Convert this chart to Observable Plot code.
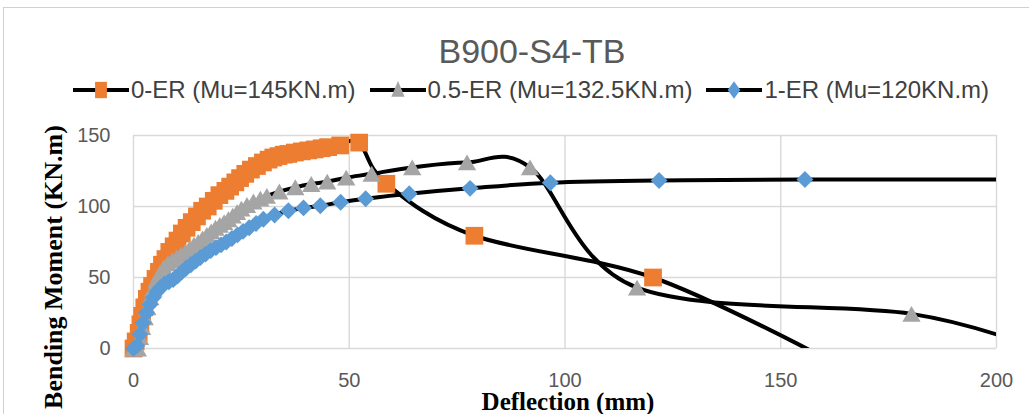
<!DOCTYPE html>
<html>
<head>
<meta charset="utf-8">
<script src="https://cdn.jsdelivr.net/npm/d3@7"></script>
<script src="https://cdn.jsdelivr.net/npm/@observablehq/plot@0.6"></script>
<style>
  html, body { margin: 0; padding: 0; background: #fff; }
  #chart { position: relative; width: 1029px; height: 414px; overflow: hidden; background: #fff; }
  #frame { position: absolute; left: 3px; top: 7px; width: 1060px; height: 440px; border: 1px solid #d0d0d0; box-sizing: border-box; }
  #title { position: absolute; top: 34px; left: 532px; transform: translateX(-50%); font: 34px/34px "Liberation Sans", Arial, sans-serif; color: #595959; white-space: nowrap; }
  #legend { position: absolute; top: 78px; left: 0; width: 1062px; display: flex; justify-content: center; gap: 14px; font: 24px/24px "Liberation Sans", Arial, sans-serif; color: #404040; white-space: nowrap; }
  #legend .item { display: flex; align-items: center; gap: 2px; }
  #plot { position: absolute; left: 0; top: 0; }
</style>
</head>
<body>
<div id="chart">
  <div id="frame"></div>
  <div id="title">B900-S4-TB</div>
  <div id="legend"></div>
  <div id="plot"></div>
</div>
<script>
// Axis ticks
const xTicks = [0, 50, 100, 150, 200];
const yTicks = [0, 50, 100, 150];

// Series names and colours
const seriesNames = ["0-ER (Mu=145KN.m)", "0.5-ER (Mu=132.5KN.m)", "1-ER (Mu=120KN.m)"];
const seriesColors = ["#ED7D31", "#A5A5A5", "#5B9BD5"];
const seriesSymbols = ["square", "triangle", "diamond2"];

// 0-ER: deflection (mm) and bending moment (kN.m)
const er0X = [0, 0.5, 1.2, 1.6, 2.0, 2.5, 3.1, 3.7, 4.3, 5.1, 5.9, 6.6, 7.4, 8.3, 9.3, 10.2, 11.2, 12.3, 13.5, 14.7, 15.9, 17.2, 18.6, 19.9, 21.3, 22.4, 23.6, 24.7, 25.9, 27.2, 28.6, 30.0, 31.3, 32.4, 33.6, 34.8, 35.9, 37.4, 39.0, 40.5, 42.0, 43.6, 45.1, 47.9, 52.3, 58.6, 79.0, 120.4, 161];
const er0Y = [0, 5, 11, 17, 23, 29, 35, 40, 44, 49, 54, 59, 63, 68, 72, 76, 81, 85, 89, 93, 97, 100, 104, 108, 111, 114, 117, 120, 123, 126, 128.5, 131, 133, 134.5, 135.5, 136.5, 137, 138, 138.8, 139.5, 140.2, 141, 141.8, 143, 145, 116, 79.4, 50, -8];

// 0.5-ER
const er05X = [0, 1.0, 1.5, 2.0, 2.6, 3.2, 3.9, 4.6, 5.3, 6.1, 7.0, 8.0, 9.0, 10.0, 11.0, 12.0, 13.0, 14.0, 15.0, 16.0, 17.0, 18.0, 19.0, 20.0, 21.0, 22.0, 23.0, 24.0, 25.0, 26.3, 27.8, 29.4, 30.9, 33.8, 37.5, 41.2, 44.9, 49.3, 55.2, 64.6, 77.3, 91.9, 116.7, 180.3, 211];
const er05Y = [0, 0, 8, 15, 22, 29, 36, 42, 48, 53, 57, 60, 62, 64, 66, 68, 70.5, 73, 75, 77.5, 80, 82.5, 85, 87, 89, 91, 93.5, 96, 98.5, 101, 103.5, 105.5, 107.5, 110.5, 113.5, 115.8, 117.5, 120.3, 123, 127.5, 131, 127.5, 42.8, 24.4, -2];

// 1-ER
const er1X = [0, 0.8, 1.5, 2.2, 3.0, 3.8, 4.6, 5.4, 6.3, 7.2, 8.2, 9.2, 10.2, 11.2, 12.2, 13.3, 14.4, 15.5, 16.7, 17.9, 19.1, 20.3, 21.5, 22.8, 24.1, 25.4, 26.8, 28.4, 30.1, 32.7, 35.9, 39.4, 43.3, 48.0, 53.8, 63.9, 78.0, 96.6, 121.8, 155.6, 220];
const er1Y = [0, 2, 10, 18, 25, 31, 36, 40, 43, 45.5, 47, 48.5, 51, 54, 56.5, 59, 61.5, 64, 66.5, 69, 71, 73, 75, 77.5, 80, 82.5, 85, 88, 91, 94, 97, 99, 100.5, 103, 105.5, 109, 112.8, 116.7, 118.3, 119, 119];

const seriesX = [er0X, er05X, er1X];
const seriesY = [er0Y, er05Y, er1Y];

const tables = seriesX.map((xs, i) => xs.map((x, j) => ({x, y: seriesY[i][j]})));

// Smoothed black line per series, markers on top (markers outside the axes are not drawn);
// the triangle is shifted so its bounding box, not its centroid, sits on the point
const seriesMarks = tables.flatMap((rows, i) => [
  Plot.line(rows, {x: "x", y: "y", stroke: "#000", strokeWidth: 4, curve: "cardinal", tension: 0, clip: true}),
  Plot.dot(rows.filter(d => d.x <= 200 && d.y >= 0), {
    x: "x", y: "y", symbol: seriesSymbols[i], fill: seriesColors[i], stroke: "none",
    r: [10, 6.8, 7.6][i], dy: [0, 2.6, 0][i]
  })
]);

const chart = Plot.plot({
  width: 1029,
  height: 414,
  marginLeft: 133,
  marginRight: 33,
  marginTop: 135,
  marginBottom: 66,
  x: {domain: [0, 200], ticks: xTicks},
  y: {domain: [0, 150], ticks: yTicks},
  style: {fontFamily: "'Liberation Sans', Arial, sans-serif", fontSize: "20px", color: "#595959", background: "transparent", overflow: "visible"},
  marks: [
    Plot.gridX(xTicks, {stroke: "#d9d9d9", strokeOpacity: 1, strokeWidth: 1.4}),
    Plot.gridY(yTicks, {stroke: "#d9d9d9", strokeOpacity: 1, strokeWidth: 1.4}),
    Plot.axisX(xTicks, {tickSize: 0, tickPadding: 24, label: null, fill: "#595959"}),
    Plot.axisY(yTicks, {tickSize: 0, tickPadding: 23, label: null, fill: "#595959"}),
    ...seriesMarks,
    Plot.text(["Deflection (mm)"], {frameAnchor: "bottom", textAnchor: "middle", lineAnchor: "bottom", dx: 3, dy: 61,
      fontFamily: "'Liberation Serif', 'Times New Roman', serif", fontWeight: "bold", fontSize: 25, fill: "#000"}),
    Plot.text(["Bending Moment (KN.m)"], {frameAnchor: "left", textAnchor: "middle", lineAnchor: "middle", rotate: -90, dx: -80, dy: 25,
      fontFamily: "'Liberation Serif', 'Times New Roman', serif", fontWeight: "bold", fontSize: 26, fill: "#000"})
  ]
});
document.getElementById("plot").appendChild(chart);

// Legend: line swatch with the series marker, then the label
const legend = d3.select("#legend");
seriesNames.forEach((name, i) => {
  const item = legend.append("div").attr("class", "item");
  const svg = item.append("svg").attr("width", 56).attr("height", 22);
  svg.append("line").attr("x1", 0).attr("x2", 56).attr("y1", 11).attr("y2", 11).attr("stroke", "#000").attr("stroke-width", 4);
  const sym = [d3.symbolSquare, d3.symbolTriangle, d3.symbolDiamond2][i];
  svg.append("path")
    .attr("d", d3.symbol(sym, [220, 120, 160][i])())
    .attr("transform", `translate(28,${[11, 12.5, 11][i]}) scale(0.8,1.1)`)
    .attr("fill", seriesColors[i]);
  item.append("span").text(name);
});
</script>
</body>
</html>
